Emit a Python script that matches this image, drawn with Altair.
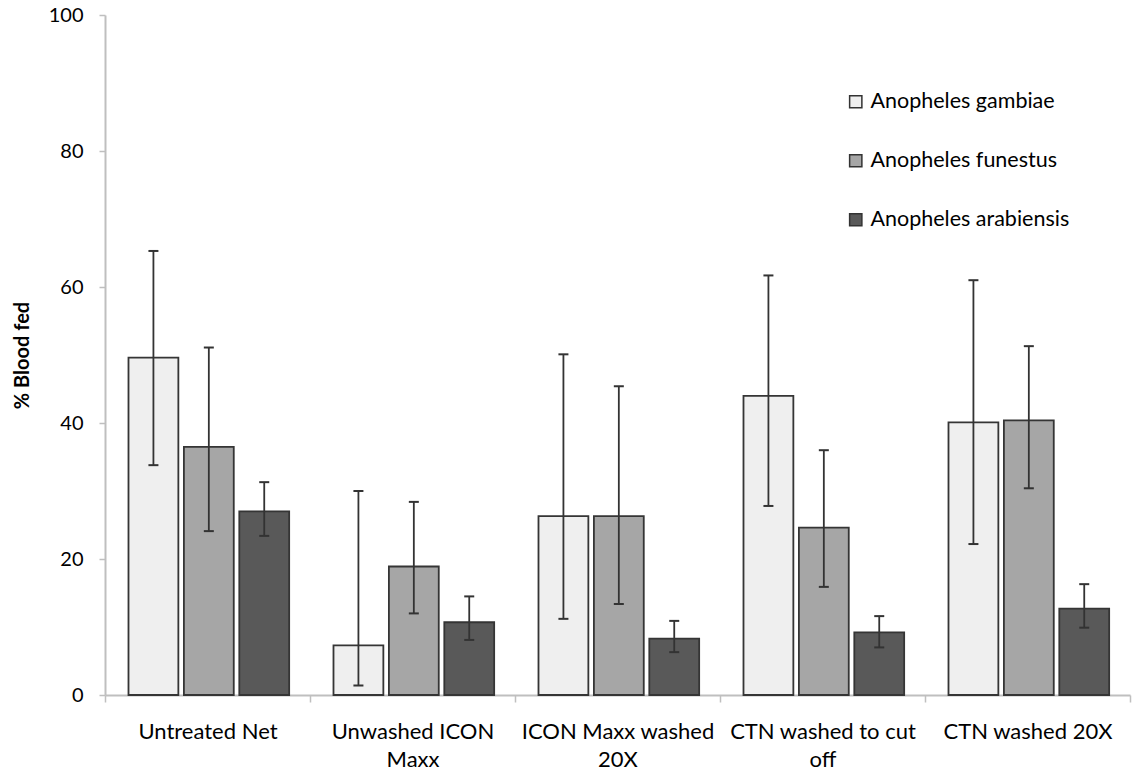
import altair as alt
import pandas as pd

# Net treatments (a "|" marks where the axis label wraps)
categories = [
    "Untreated Net",
    "Unwashed ICON|Maxx",
    "ICON Maxx washed|20X",
    "CTN washed to cut|off",
    "CTN washed 20X",
]
species = ["Anopheles gambiae", "Anopheles funestus", "Anopheles arabiensis"]

# % blood fed, with lower / upper confidence limits
gambiae = [49.6, 7.3, 26.3, 44.0, 40.1]
gambiae_lo = [33.8, 1.4, 11.2, 27.8, 22.2]
gambiae_hi = [65.3, 30.0, 50.1, 61.7, 61.0]

funestus = [36.5, 18.9, 26.3, 24.6, 40.4]
funestus_lo = [24.1, 12.0, 13.4, 15.9, 30.4]
funestus_hi = [51.1, 28.4, 45.4, 36.0, 51.3]

arabiensis = [27.0, 10.7, 8.3, 9.2, 12.7]
arabiensis_lo = [23.4, 8.1, 6.3, 7.0, 9.9]
arabiensis_hi = [31.3, 14.5, 10.9, 11.6, 16.3]

fills = ["#efefef", "#a6a6a6", "#595959"]
y_ticks = [0, 20, 40, 60, 80, 100]

rows = []
series = [
    (species[0], gambiae, gambiae_lo, gambiae_hi),
    (species[1], funestus, funestus_lo, funestus_hi),
    (species[2], arabiensis, arabiensis_lo, arabiensis_hi),
]
for name, vals, los, his in series:
    for cat, v, lo, hi in zip(categories, vals, los, his):
        rows.append({"category": cat, "species": name, "value": v, "lo": lo, "hi": hi})
df = pd.DataFrame(rows)

caps = pd.concat(
    [
        df[["category", "species"]].assign(cap=df["lo"]),
        df[["category", "species"]].assign(cap=df["hi"]),
    ],
    ignore_index=True,
)

FONT = "Lato"

x_enc = alt.X(
    "category:N",
    sort=categories,
    scale=alt.Scale(paddingInner=0, paddingOuter=0),
    axis=alt.Axis(
        title=None,
        labelExpr="split(datum.label, '|')",
        labelAngle=0,
        labelFont=FONT,
        labelFontSize=22,
        labelColor="#000000",
        labelLineHeight=28,
        labelBaseline="top",
        labelPadding=19,
        labelLimit=0,
        tickBand="extent",
        tickSize=7,
        tickColor="#bfbfbf",
        tickWidth=1.5,
        domainColor="#bfbfbf",
        domainWidth=2,
    ),
)
xoff_enc = alt.XOffset(
    "species:N",
    sort=species,
    scale=alt.Scale(paddingInner=0.1, paddingOuter=0.4, align=0.53),
)
y_scale = alt.Scale(domain=[0, 100], nice=False)

bars = (
    alt.Chart(df)
    .mark_bar(stroke="#353535", strokeWidth=1.8)
    .encode(
        x=x_enc,
        xOffset=xoff_enc,
        y=alt.Y(
            "value:Q",
            scale=y_scale,
            axis=alt.Axis(
                values=y_ticks,
                title="% Blood fed",
                titleFont=FONT,
                titleFontSize=20,
                titleFontWeight="bold",
                titleColor="#000000",
                titleAngle=270,
                titleX=-83,
                titleY=340,
                titleAlign="center",
                titleBaseline="middle",
                labelFont=FONT,
                labelFontSize=20,
                labelColor="#000000",
                labelPadding=16,
                tickSize=6,
                tickColor="#bfbfbf",
                tickWidth=1.5,
                domainColor="#bfbfbf",
                domainWidth=2,
                grid=False,
            ),
        ),
        color=alt.Color(
            "species:N",
            sort=species,
            scale=alt.Scale(domain=species, range=fills),
            legend=alt.Legend(
                orient="none",
                legendX=740,
                legendY=76,
                title=None,
                symbolType="square",
                symbolSize=150,
                symbolStrokeColor="#333333",
                symbolStrokeWidth=1.5,
                labelFont=FONT,
                labelFontSize=21.5,
                labelColor="#000000",
                labelLimit=0,
                labelOffset=4,
                rowPadding=36,
            ),
        ),
    )
)

whiskers = (
    alt.Chart(df)
    .mark_rule(color="#333333", strokeWidth=1.8)
    .encode(x=x_enc, xOffset=xoff_enc, y=alt.Y("lo:Q", scale=y_scale), y2="hi:Q")
)

cap_marks = (
    alt.Chart(caps)
    .mark_tick(orient="horizontal", size=10, thickness=2, color="#333333", opacity=1)
    .encode(x=x_enc, xOffset=xoff_enc, y=alt.Y("cap:Q", scale=y_scale))
)

chart = (
    alt.layer(bars, whiskers, cap_marks)
    .properties(
        width=1025,
        height=680,
        autosize=alt.AutoSizeParams(type="none"),
        padding={"left": 105, "top": 15, "right": 10, "bottom": 77},
        background="#ffffff",
    )
    .configure_view(stroke=None)
)

chart.save("out.html", embed_options={"renderer": "svg", "actions": False})
